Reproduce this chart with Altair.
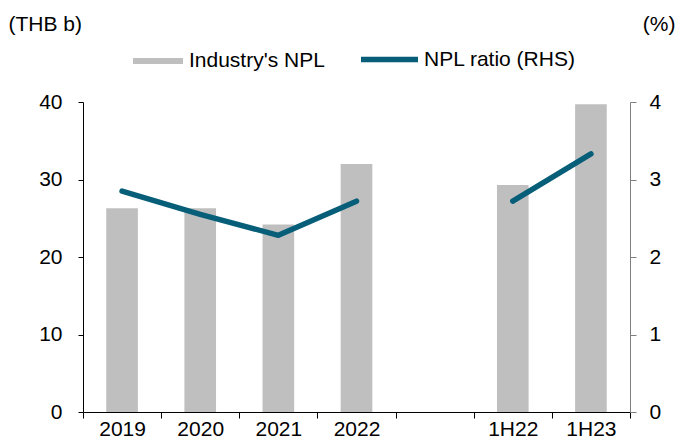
import altair as alt
import pandas as pd

categories = ["2019", "2020", "2021", "2022", " ", "1H22", "1H23"]
npl_values = [26.3, 26.3, 24.2, 32.0, None, 29.3, 39.7]
ratio_values = [2.85, 2.55, 2.28, 2.72, None, 2.72, 3.33]
line_groups = ["annual", "annual", "annual", "annual", None, "half", "half"]

df = pd.DataFrame({
    "cat": categories,
    "npl": npl_values,
    "ratio": ratio_values,
    "grp": line_groups,
    "bar_series": ["Industry's NPL"] * len(categories),
    "line_series": ["NPL ratio (RHS)"] * len(categories),
})

FONT = "Liberation Sans"
FS = 21
BAR_COLOR = "#bfbfbf"
LINE_COLOR = "#075e78"

x_enc = alt.X(
    "cat:N",
    sort=categories,
    scale=alt.Scale(domain=categories, paddingInner=0, paddingOuter=0),
    axis=alt.Axis(
        title=None, labelAngle=0, tickBand="extent", domainColor="black",
        tickColor="black", tickSize=6, labelPadding=0, labelFontSize=FS,
        labelColor="black", labelFont=FONT, grid=False,
    ),
)

bars = alt.Chart(df).transform_filter("datum.npl != null").mark_bar(
    width=alt.RelativeBandSize(0.405)
).encode(
    x=x_enc,
    y=alt.Y(
        "npl:Q",
        scale=alt.Scale(domain=[0, 40], nice=False),
        axis=alt.Axis(
            values=[0, 10, 20, 30, 40], title="(THB b)", titleAngle=0,
            titleX=-75, titleY=-78, titleAlign="left", titleBaseline="middle",
            titleFontSize=FS, titleFont=FONT, titleFontWeight="normal",
            titleColor="black", labelFontSize=FS, labelFont=FONT,
            labelColor="black", labelPadding=16, tickSize=5,
            tickColor="black", domainColor="black", grid=False,
        ),
    ),
    color=alt.Color(
        "bar_series:N",
        scale=alt.Scale(domain=["Industry's NPL"], range=[BAR_COLOR]),
        legend=alt.Legend(
            title=None, orient="none", legendX=50, legendY=-66,
            symbolType="M-1,-0.12L1,-0.12L1,0.12L-1,0.12Z", symbolSize=2500,
            symbolStrokeWidth=0, labelFontSize=FS, labelFont=FONT,
            labelColor="black", labelOffset=6,
        ),
    ),
)

line = alt.Chart(df).transform_filter("datum.ratio != null").mark_line(
    strokeWidth=5.5, strokeCap="round", strokeJoin="round"
).encode(
    x=x_enc,
    y=alt.Y(
        "ratio:Q",
        scale=alt.Scale(domain=[0, 4], nice=False),
        axis=alt.Axis(
            orient="right", values=[0, 1, 2, 3, 4], title="(%)", titleAngle=0,
            titleX=45, titleY=-78, titleAlign="right", titleBaseline="middle",
            titleFontSize=FS, titleFont=FONT, titleFontWeight="normal",
            titleColor="black", labelFontSize=FS, labelFont=FONT,
            labelColor="black", labelPadding=13, tickSize=6,
            tickColor="#7f7f7f", domainColor="#7f7f7f", grid=False,
        ),
    ),
    color=alt.Color(
        "line_series:N",
        scale=alt.Scale(domain=["NPL ratio (RHS)"], range=[LINE_COLOR]),
        legend=alt.Legend(
            title=None, orient="none", legendX=275, legendY=-74,
            symbolType="stroke", symbolSize=3249, symbolStrokeWidth=5.5,
            labelFontSize=FS, labelFont=FONT, labelColor="black", labelOffset=3,
        ),
    ),
    detail="grp:N",
)

chart = alt.layer(bars, line).resolve_scale(
    y="independent", color="independent"
).properties(
    width=547,
    height=310,
    padding={"left": 75, "top": 94, "right": 46, "bottom": 28},
    autosize=alt.AutoSizeParams(type="none"),
).configure_view(stroke=None)

chart.save("out.html", embed_options={"renderer": "svg", "actions": False})
